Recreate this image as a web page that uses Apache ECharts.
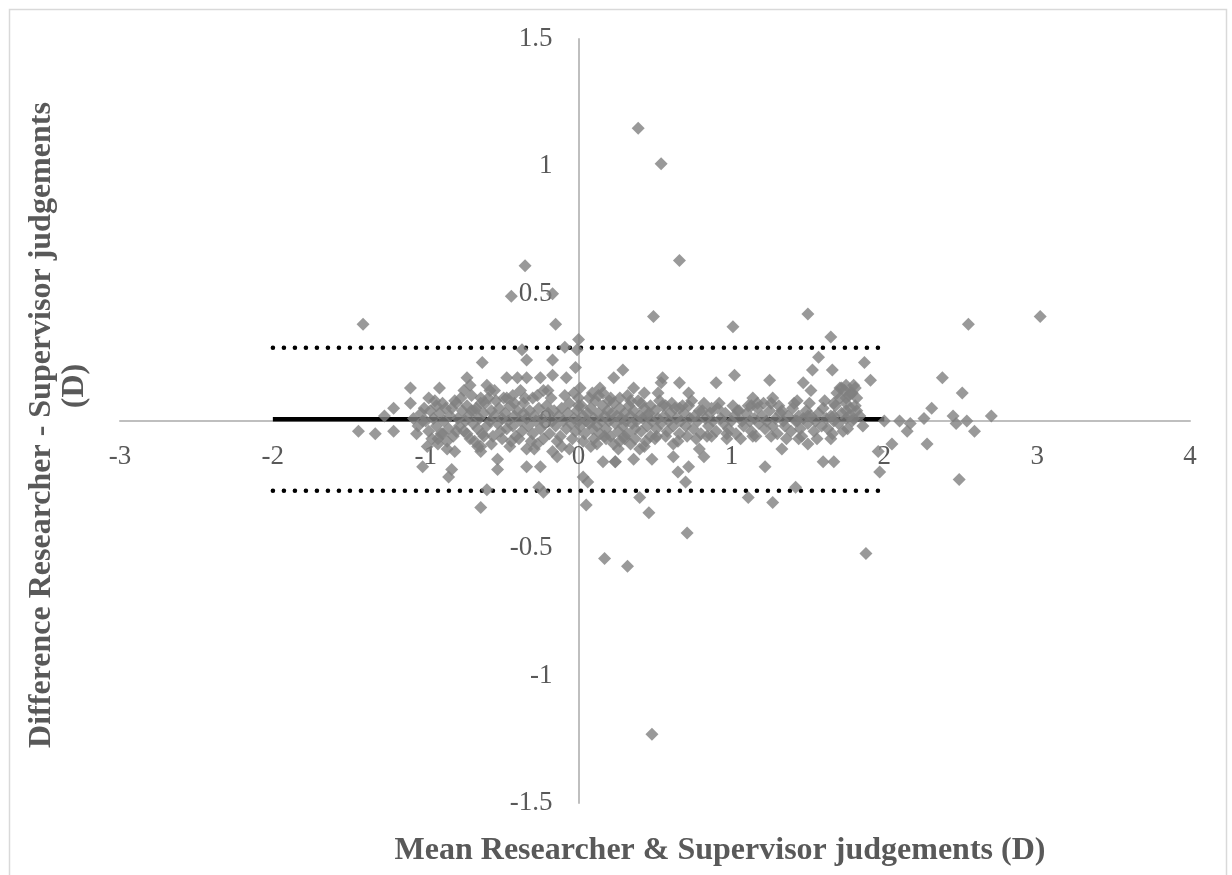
<!DOCTYPE html>
<html>
<head>
<meta charset="utf-8">
<title>Bland-Altman plot</title>
<script src="https://cdn.jsdelivr.net/npm/echarts@6/dist/echarts.min.js"></script>
<style>
  html, body { margin: 0; padding: 0; background: #ffffff; }
  #chart { width: 1232px; height: 875px; }
</style>
</head>
<body>
<div id="chart"></div>
<script>
// Mean of the two judgements (x) against their difference (y), in dioptres.

// Points well away from zero difference
const outlierPoints = [
  [0.39, 1.15], [0.54, 1.01], [0.66, 0.63], [-0.35, 0.61], [-0.44, 0.49], [-0.17, 0.50],
  [0.49, 0.41], [1.01, 0.37], [1.50, 0.42], [-1.41, 0.38], [2.55, 0.38], [3.02, 0.41],
  [-0.15, 0.38], [0.0, 0.32], [1.65, 0.33],
  [1.88, -0.52], [0.17, -0.54], [0.32, -0.57], [0.71, -0.44], [0.48, -1.23],
  [0.40, -0.30], [0.46, -0.36], [0.05, -0.33], [-0.64, -0.34], [-0.60, -0.27],
  [-0.26, -0.26], [-0.23, -0.28], [1.11, -0.30], [1.27, -0.32], [1.42, -0.26]
];

// Points between the limits of agreement, away from the central band
const spreadPoints = [
  [-1.10, 0.13], [-1.10, 0.07], [-1.21, 0.05], [-1.27, 0.02], [-1.33, -0.05], [-1.21, -0.04],
  [-1.44, -0.04], [-1.02, 0.0], [-0.91, 0.13], [-0.93, 0.06], [-0.89, -0.05], [-0.92, -0.07],
  [-0.99, -0.10], [-1.02, -0.18], [-0.86, -0.11], [-0.83, -0.19], [-0.85, -0.22], [-0.81, -0.12],
  [-0.80, 0.07], [-0.73, 0.17], [-0.71, 0.14], [-0.63, 0.23], [-0.60, 0.14], [-0.64, 0.09],
  [-0.68, 0.04], [-0.73, 0.06], [-0.64, -0.10], [-0.64, -0.12], [-0.53, -0.15], [-0.53, -0.19],
  [-0.55, 0.12], [-0.47, 0.17], [-0.40, 0.17], [-0.47, 0.09], [-0.42, 0.07], [-0.34, 0.17],
  [-0.25, 0.17], [-0.17, 0.18], [-0.23, 0.12], [-0.30, 0.09], [-0.36, 0.03], [-0.34, 0.24],
  [-0.37, 0.28], [-0.17, 0.24], [-0.09, 0.29], [-0.01, 0.28], [-0.02, 0.21], [-0.08, 0.17],
  [0.01, 0.13], [0.09, 0.11], [0.14, 0.13], [0.23, 0.17], [0.29, 0.20], [0.0, 0.09],
  [-0.34, -0.18], [-0.25, -0.18], [-0.17, -0.12], [-0.14, -0.14], [-0.27, -0.09], [-0.34, -0.11],
  [-0.06, -0.11], [0.03, -0.22], [0.06, -0.24], [0.16, -0.16], [0.24, -0.16], [0.12, -0.09],
  [0.18, -0.07], [0.27, -0.08],
  [1.57, 0.25], [1.53, 0.20], [1.66, 0.20], [1.47, 0.15], [1.52, 0.12], [1.43, 0.08],
  [1.67, 0.07], [1.71, 0.13], [1.75, 0.14], [1.81, 0.13], [1.79, 0.11], [1.75, 0.09],
  [1.02, 0.18], [0.90, 0.15], [1.25, 0.16], [1.27, 0.09], [1.26, 0.07], [1.14, 0.09],
  [1.17, 0.07], [0.72, 0.11], [0.66, 0.15], [0.55, 0.17], [0.54, 0.15], [0.43, 0.11],
  [0.36, 0.13], [0.21, 0.09], [0.45, 0.02], [0.57, 0.06], [0.66, 0.05], [0.79, 0.04],
  [0.87, 0.05], [1.04, 0.04], [1.13, 0.06], [1.33, 0.04], [1.43, 0.0], [1.50, 0.02],
  [1.67, 0.02], [1.75, 0.01],
  [0.97, -0.07], [0.84, -0.06], [0.79, -0.11], [0.82, -0.14], [0.72, -0.18], [0.65, -0.20],
  [0.70, -0.24], [0.62, -0.14], [0.62, -0.09], [0.51, -0.06], [0.48, -0.15], [0.36, -0.15],
  [0.24, -0.16], [0.40, -0.11], [0.34, -0.09], [0.30, -0.07], [1.22, -0.18], [1.33, -0.11],
  [1.44, -0.07], [1.50, -0.09], [1.65, -0.07], [1.60, -0.16], [1.67, -0.16], [1.14, -0.06],
  [1.78, 0.11], [1.82, 0.09], [1.80, 0.14], [1.72, 0.13], [1.75, 0.04], [1.79, 0.0], [1.86, -0.02],
  [1.87, 0.23], [1.91, 0.16]
];

// Points with a mean above 1.9 D
const highMeanPoints = [
  [2.38, 0.17], [2.51, 0.11], [2.31, 0.05], [2.70, 0.02], [2.45, 0.02], [2.47, -0.01],
  [2.54, 0.0], [2.59, -0.04], [2.26, 0.01], [2.17, -0.01], [2.15, -0.04], [2.10, 0.0],
  [2.0, 0.0], [2.28, -0.09], [2.05, -0.09], [1.96, -0.12], [1.97, -0.20], [2.49, -0.23]
];

// Dense band close to zero difference
const centralPoints = [
  [-1.08, 0.01], [-1.05, -0.02], [-1.03, 0.03], [-1.0, 0.0], [-0.98, -0.04], [-0.97, 0.04],
  [-0.95, 0.01], [-0.93, -0.02], [-0.91, 0.03], [-0.9, -0.05], [-0.88, 0.0], [-0.87, 0.05],
  [-0.85, -0.03], [-0.84, 0.02], [-0.82, -0.06], [-0.81, 0.08], [-0.79, 0.01], [-0.78, -0.02],
  [-0.76, 0.04], [-0.75, -0.04], [-0.74, 0.0], [-0.72, 0.02], [-0.71, -0.07], [-0.7, 0.1],
  [-0.69, -0.01], [-0.67, 0.05], [-0.66, -0.03], [-0.65, 0.01], [-0.63, -0.05], [-0.62, 0.03],
  [-0.61, 0.07], [-0.6, -0.02], [-0.58, 0.0], [-0.57, 0.04], [-0.56, -0.06], [-0.55, 0.02],
  [-0.53, -0.01], [-0.52, 0.05], [-0.51, -0.04], [-0.5, 0.01], [-0.48, 0.03], [-0.47, -0.03],
  [-0.46, 0.0], [-0.45, 0.06], [-0.43, -0.02], [-0.42, 0.02], [-0.41, -0.06], [-0.4, 0.04],
  [-0.38, 0.0], [-0.37, -0.04], [-0.36, 0.07], [-0.34, 0.01], [-0.33, -0.02], [-0.32, 0.04],
  [-0.3, -0.05], [-0.29, 0.02], [-0.28, 0.0], [-0.26, 0.05], [-0.25, -0.03], [-0.24, 0.01],
  [-0.22, -0.01], [-0.21, 0.06], [-0.2, 0.03], [-0.19, -0.05], [-0.17, 0.0], [-0.16, 0.04],
  [-0.15, -0.02], [-0.13, 0.02], [-0.12, -0.06], [-0.11, 0.05], [-0.1, 0.0], [-0.08, -0.03],
  [-0.07, 0.03], [-0.06, 0.07], [-0.05, -0.01], [-0.03, 0.01], [-0.02, -0.04], [-0.01, 0.04],
  [0.0, 0.0], [0.01, -0.02], [0.02, 0.06], [0.03, 0.02], [0.04, -0.05], [0.05, 0.0],
  [0.06, 0.03], [0.07, -0.01], [0.08, 0.05], [0.09, -0.03], [0.1, 0.01], [0.11, 0.08],
  [0.12, -0.02], [0.13, 0.03], [0.14, -0.05], [0.15, 0.0], [0.16, 0.06], [0.17, 0.02],
  [0.18, -0.03], [0.19, 0.04], [0.2, 0.0], [0.21, -0.06], [0.22, 0.03], [0.23, 0.07],
  [0.24, -0.01], [0.25, 0.02], [0.26, -0.04], [0.27, 0.05], [0.28, 0.01], [0.29, -0.02],
  [0.3, 0.03], [0.31, 0.0], [0.32, -0.05], [0.33, 0.06], [0.34, 0.02], [0.35, -0.01],
  [0.36, 0.04], [0.37, -0.03], [0.38, 0.0], [0.39, 0.08], [0.4, 0.02], [0.41, -0.04],
  [0.42, 0.01], [0.43, 0.05], [0.45, -0.02], [0.46, 0.03], [0.47, -0.06], [0.48, 0.0],
  [0.5, 0.04], [0.51, -0.03], [0.52, 0.01], [0.54, -0.01], [0.55, 0.06], [0.56, 0.02],
  [0.58, -0.04], [0.59, 0.0], [0.6, 0.03], [0.62, -0.02], [0.63, 0.05], [0.64, 0.01],
  [0.66, -0.05], [0.67, 0.0], [0.69, 0.03], [0.7, -0.02], [0.72, 0.06], [0.73, 0.01],
  [0.75, -0.03], [0.76, 0.02], [0.78, 0.0], [0.8, -0.05], [0.81, 0.04], [0.83, 0.01],
  [0.85, -0.02], [0.86, 0.03], [0.88, 0.0], [0.9, -0.04], [0.91, 0.05], [0.93, 0.01],
  [0.95, -0.01], [0.96, 0.03], [0.98, -0.03], [1.0, 0.0], [1.02, 0.02], [1.03, -0.05],
  [1.05, 0.04], [1.07, 0.0], [1.08, -0.02], [1.1, 0.03], [1.12, 0.0], [1.13, -0.04],
  [1.15, 0.01], [1.17, 0.05], [1.18, -0.01], [1.2, 0.02], [1.22, -0.03], [1.23, 0.0],
  [1.25, 0.04], [1.27, -0.02], [1.29, 0.01], [1.3, -0.05], [1.32, 0.03], [1.34, 0.0],
  [1.35, -0.02], [1.37, 0.02], [1.39, -0.04], [1.4, 0.05], [1.42, 0.0], [1.44, 0.02],
  [1.45, -0.03], [1.47, 0.01], [1.49, 0.04], [1.5, -0.01], [1.52, 0.02], [1.54, -0.04],
  [1.55, 0.0], [1.57, 0.03], [1.59, -0.02], [1.6, 0.05], [1.62, 0.01], [1.63, -0.03],
  [1.65, 0.02], [1.67, 0.0], [1.68, 0.06], [1.7, -0.01], [1.72, 0.03], [1.73, -0.04],
  [1.75, 0.07], [1.77, 0.02], [1.78, 0.05], [1.8, 0.01], [1.82, 0.04]
];

// Edges of the central band
const bandEdgePoints = [
  [-1.06, -0.05], [-1.01, 0.05], [-0.96, -0.07], [-0.94, 0.08], [-0.89, 0.07], [-0.86, -0.08],
  [-0.83, 0.05], [-0.8, -0.04], [-0.77, 0.09], [-0.73, -0.05], [-0.7, 0.04], [-0.68, -0.08],
  [-0.64, 0.07], [-0.62, -0.06], [-0.59, 0.09], [-0.57, -0.09], [-0.54, 0.08], [-0.5, -0.07],
  [-0.49, 0.09], [-0.44, -0.08], [-0.43, 0.1], [-0.39, -0.07], [-0.35, 0.09], [-0.31, -0.08],
  [-0.27, 0.1], [-0.23, -0.07], [-0.18, 0.09], [-0.14, -0.08], [-0.09, 0.1], [-0.04, -0.07],
  [0.0, 0.06], [0.03, -0.08], [0.07, 0.09], [0.1, -0.07], [0.13, 0.1], [0.17, -0.06],
  [0.2, 0.08], [0.23, -0.09], [0.27, 0.09], [0.3, -0.06], [0.34, 0.08], [0.37, -0.07],
  [0.41, 0.07], [0.44, -0.08], [0.47, 0.06], [0.5, -0.07], [0.53, 0.08], [0.57, -0.06],
  [0.61, 0.07], [0.65, -0.08], [0.68, 0.06], [0.71, -0.06], [0.74, 0.08], [0.77, -0.07],
  [0.82, 0.07], [0.87, -0.06], [0.92, 0.07], [0.97, -0.05], [1.01, 0.06], [1.06, -0.07],
  [1.11, 0.06], [1.16, -0.06], [1.21, 0.07], [1.26, -0.06], [1.31, 0.06], [1.36, -0.07],
  [1.41, 0.07], [1.46, -0.06], [1.51, 0.07], [1.56, -0.07], [1.61, 0.08], [1.66, -0.05],
  [1.71, 0.09], [1.76, -0.03], [1.81, 0.06], [1.84, 0.02], [1.69, 0.11], [1.74, 0.12],
  [1.77, 0.1], [-0.98, 0.09], [-0.92, -0.09], [-0.75, 0.12], [-0.66, -0.1], [-0.58, 0.12],
  [-0.45, -0.1], [-0.38, 0.12], [-0.29, -0.11], [-0.2, 0.12], [-0.11, -0.1], [-0.03, 0.11],
  [0.08, -0.1], [0.16, 0.11], [0.26, -0.11], [0.32, 0.1], [0.43, -0.1], [0.52, 0.11]
];

// Mean difference (bias) and 95% limits of agreement, drawn from -2 to 2 D
const lineRange = [-2, 2];
const meanDifference = 0.007;
const upperLimit = 0.288;
const lowerLimit = -0.274;

// Axis ranges
const xRange = [-3, 4];
const yRange = [-1.5, 1.5];

const allPoints = outlierPoints.concat(spreadPoints, highMeanPoints, centralPoints, bandEdgePoints);

const FONT = '"Liberation Serif", "Times New Roman", serif';
const TEXT_GREY = '#595959';
const AXIS_GREY = '#bfbfbf';

const W = 1232, H = 875;
const grid = { left: 120, right: 42, top: 39, bottom: 72 };
const gridW = W - grid.left - grid.right;
const gridH = H - grid.top - grid.bottom;

// Shift both axes (line and labels) so that they cross at the origin
const xAxisOffset = -((0 - yRange[0]) / (yRange[1] - yRange[0])) * gridH;
const yAxisOffset = -((0 - xRange[0]) / (xRange[1] - xRange[0])) * gridW;

function horizontal(value) {
  return lineRange.map(function (x) { return [x, value]; });
}

const chart = echarts.init(document.getElementById('chart'), null, { renderer: 'canvas' });

chart.setOption({
  animation: false,
  backgroundColor: '#ffffff',
  grid: { left: grid.left, right: grid.right, top: grid.top, bottom: grid.bottom, containLabel: false },
  xAxis: {
    type: 'value',
    position: 'bottom',
    offset: xAxisOffset,
    min: xRange[0], max: xRange[1], interval: 1,
    axisLine: { show: true, onZero: false, lineStyle: { color: AXIS_GREY, width: 2 } },
    axisTick: { show: false },
    splitLine: { show: false },
    axisLabel: { color: TEXT_GREY, fontFamily: FONT, fontSize: 27, margin: 22 }
  },
  yAxis: {
    type: 'value',
    position: 'left',
    offset: yAxisOffset,
    min: yRange[0], max: yRange[1], interval: 0.5,
    axisLine: { show: true, onZero: false, lineStyle: { color: AXIS_GREY, width: 2 } },
    axisTick: { show: false },
    splitLine: { show: false },
    axisLabel: { color: TEXT_GREY, fontFamily: FONT, fontSize: 27, margin: 26 }
  },
  series: [
    {
      name: 'Mean difference',
      type: 'line',
      data: horizontal(meanDifference),
      showSymbol: false,
      lineStyle: { color: '#000000', width: 4.5 },
      z: 1
    },
    {
      name: 'Upper limit',
      type: 'line',
      data: horizontal(upperLimit),
      showSymbol: false,
      lineStyle: { color: '#000000', width: 4.5, type: [0.1, 10.9], cap: 'round' },
      z: 1
    },
    {
      name: 'Lower limit',
      type: 'line',
      data: horizontal(lowerLimit),
      showSymbol: false,
      lineStyle: { color: '#000000', width: 4.5, type: [0.1, 10.9], cap: 'round' },
      z: 1
    },
    {
      name: 'Judgements',
      type: 'scatter',
      data: allPoints,
      symbol: 'diamond',
      symbolSize: 13,
      itemStyle: { color: '#7f7f7f' },
      z: 3
    }
  ],
  graphic: [
    {
      type: 'rect',
      shape: { x: 9.5, y: 9.5, width: 1217, height: 900 },
      style: { fill: null, stroke: '#d9d9d9', lineWidth: 1.5 },
      silent: true
    },
    {
      type: 'text',
      x: 720, y: 851,
      style: {
        text: 'Mean Researcher & Supervisor judgements (D)',
        font: 'bold 32px ' + FONT,
        fill: TEXT_GREY,
        align: 'center',
        verticalAlign: 'middle'
      }
    },
    {
      type: 'text',
      x: 42, y: 425,
      rotation: Math.PI / 2,
      style: {
        text: 'Difference Researcher - Supervisor judgements',
        font: 'bold 32px ' + FONT,
        fill: TEXT_GREY,
        align: 'center',
        verticalAlign: 'middle'
      }
    },
    {
      type: 'text',
      x: 75, y: 386,
      rotation: Math.PI / 2,
      style: {
        text: '(D)',
        font: 'bold 32px ' + FONT,
        fill: TEXT_GREY,
        align: 'center',
        verticalAlign: 'middle'
      }
    }
  ]
});
</script>
</body>
</html>
